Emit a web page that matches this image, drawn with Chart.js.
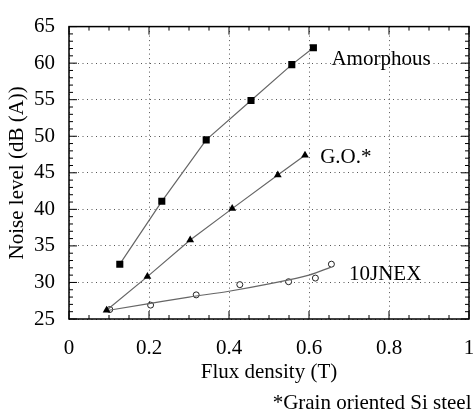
<!DOCTYPE html>
<html>
<head>
<meta charset="utf-8">
<style>
  html, body { margin: 0; padding: 0; background: #fff; }
</style>
<script src="https://cdn.jsdelivr.net/npm/chart.js@4"></script>
</head>
<body>
<canvas id="chart" width="474" height="416"></canvas>
<script>
const seriesNames = ['Amorphous', 'G.O.*', '10JNEX'];

const amorphousFlux = [0.127, 0.232, 0.343, 0.455, 0.557, 0.611];
const amorphousNoise = [32.5, 41.1, 49.5, 54.9, 59.8, 62.1];

const goFlux = [0.094, 0.196, 0.303, 0.408, 0.522, 0.590];
const goNoise = [26.2, 30.8, 35.8, 40.1, 44.7, 47.4];

const jnexFlux = [0.102, 0.204, 0.318, 0.427, 0.549, 0.616, 0.656];
const jnexNoise = [26.3, 26.9, 28.3, 29.7, 30.1, 30.6, 32.5];

// fitted curve through the 10JNEX points
const jnexFitFlux = [0.100, 0.200, 0.300, 0.400, 0.500, 0.600, 0.655];
const jnexFitNoise = [26.2, 27.1, 28.0, 28.8, 29.8, 31.0, 32.1];

const xTicks = [0, 0.2, 0.4, 0.6, 0.8, 1];
const yTicks = [25, 30, 35, 40, 45, 50, 55, 60, 65];

const serif = '"Liberation Serif", "Times New Roman", serif';
const lineGray = '#666';

function pts(xs, ys) {
    return xs.map((v, i) => ({ x: v, y: ys[i] }));
}

// frame, inward ticks and the series names
const framePlugin = {
    id: 'frame',
    afterDraw(chart) {
        const ctx = chart.ctx;
        const a = chart.chartArea;
        const x = chart.scales.x;
        const y = chart.scales.y;
        ctx.save();
        ctx.strokeStyle = '#000';
        ctx.lineWidth = 1;
        for (let i = 0; i <= 20; i++) {
            const px = x.getPixelForValue(i * 0.05);
            const len = i % 4 === 0 ? 8 : 4;
            ctx.beginPath();
            ctx.moveTo(px, a.bottom); ctx.lineTo(px, a.bottom - len);
            ctx.moveTo(px, a.top); ctx.lineTo(px, a.top + len);
            ctx.stroke();
        }
        for (let v = 25; v <= 65; v++) {
            const py = y.getPixelForValue(v);
            const len = v % 5 === 0 ? 8 : 4;
            ctx.beginPath();
            ctx.moveTo(a.left, py); ctx.lineTo(a.left + len, py);
            ctx.moveTo(a.right, py); ctx.lineTo(a.right - len, py);
            ctx.stroke();
        }
        ctx.lineWidth = 1.5;
        ctx.strokeRect(a.left, a.top, a.right - a.left, a.bottom - a.top);

        ctx.fillStyle = '#000';
        ctx.font = '21px ' + serif;
        ctx.textAlign = 'left';
        ctx.textBaseline = 'middle';
        const spots = [[0.656, 60.45], [0.628, 47.07], [0.70, 31.15]];
        seriesNames.forEach((name, i) => {
            ctx.fillText(name, x.getPixelForValue(spots[i][0]), y.getPixelForValue(spots[i][1]));
        });
        ctx.restore();
    }
};

new Chart(document.getElementById('chart'), {
    type: 'scatter',
    data: {
        datasets: [
            {
                label: seriesNames[0],
                data: pts(amorphousFlux, amorphousNoise),
                showLine: true,
                borderColor: lineGray,
                borderWidth: 1.2,
                pointStyle: 'rect',
                pointRadius: 5,
                pointBackgroundColor: '#000',
                pointBorderColor: '#000',
                pointBorderWidth: 0
            },
            {
                label: seriesNames[1],
                data: pts(goFlux, goNoise),
                showLine: true,
                borderColor: lineGray,
                borderWidth: 1.2,
                pointStyle: 'triangle',
                pointRadius: 4.5,
                pointBackgroundColor: '#000',
                pointBorderColor: '#000',
                pointBorderWidth: 0
            },
            {
                label: seriesNames[2] + ' fit',
                data: pts(jnexFitFlux, jnexFitNoise),
                showLine: true,
                borderColor: lineGray,
                borderWidth: 1.2,
                tension: 0.4,
                cubicInterpolationMode: 'monotone',
                pointRadius: 0
            },
            {
                label: seriesNames[2],
                data: pts(jnexFlux, jnexNoise),
                showLine: false,
                pointStyle: 'circle',
                pointRadius: 3,
                pointBackgroundColor: '#fff',
                pointBorderColor: '#222',
                pointBorderWidth: 1
            }
        ]
    },
    options: {
        responsive: false,
        animation: false,
        events: [],
        layout: { padding: { top: 20, right: 2.5, left: 0, bottom: 0 } },
        plugins: {
            legend: { display: false },
            tooltip: { enabled: false },
            subtitle: {
                display: true,
                position: 'bottom',
                align: 'end',
                text: '*Grain oriented Si steel',
                color: '#000',
                font: { family: serif, size: 21 },
                padding: { top: 0, bottom: 0.4 }
            }
        },
        scales: {
            x: {
                type: 'linear',
                min: 0,
                max: 1,
                afterBuildTicks: s => { s.ticks = xTicks.map(v => ({ value: v })); },
                afterFit: s => { s.height = 71.4; s.paddingLeft = 0; s.paddingRight = 0; },
                ticks: {
                    color: '#000',
                    font: { family: serif, size: 21 },
                    padding: 16.4,
                    maxRotation: 0,
                    callback: v => String(v)
                },
                grid: { color: '#555', lineWidth: 1, drawTicks: false },
                border: { display: false, dash: [1, 3.5] },
                title: {
                    display: true,
                    text: 'Flux density (T)',
                    color: '#000',
                    font: { family: serif, size: 21 },
                    padding: { top: 0, bottom: 5.8 }
                }
            },
            y: {
                type: 'linear',
                min: 25,
                max: 65,
                afterBuildTicks: s => { s.ticks = yTicks.map(v => ({ value: v })); },
                afterFit: s => { s.width = 69; },
                ticks: {
                    color: '#000',
                    font: { family: serif, size: 21 },
                    padding: 14
                },
                grid: { color: '#555', lineWidth: 1, drawTicks: false },
                border: { display: false, dash: [1, 3.5] },
                title: {
                    display: true,
                    text: 'Noise level (dB (A))',
                    color: '#000',
                    font: { family: serif, size: 21 },
                    padding: { top: 4.4, bottom: 0 }
                }
            }
        }
    },
    plugins: [framePlugin]
});
</script>
</body>
</html>
